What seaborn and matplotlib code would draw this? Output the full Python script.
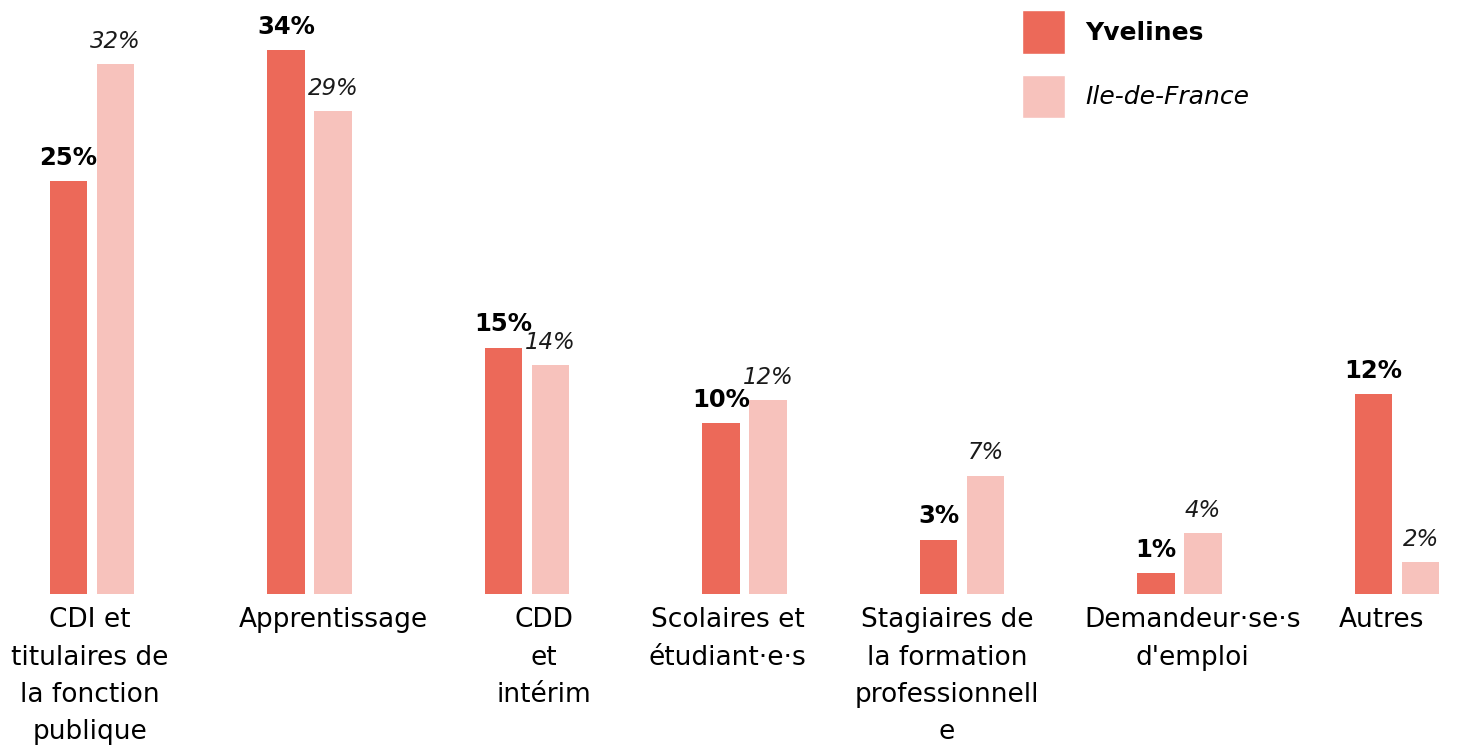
import matplotlib
matplotlib.use("Agg")
import matplotlib.pyplot as plt
import matplotlib.transforms as mtransforms
import seaborn as sns
import pandas as pd
from matplotlib.patches import Patch

# Data
categories = [
    "CDI et\ntitulaires de\nla fonction\npublique",
    "Apprentissage",
    "CDD\net\nintérim",
    "Scolaires et\nétudiant·e·s",
    "Stagiaires de\nla formation\nprofessionnell\ne",
    "Demandeur·se·s\nd'emploi",
    "Autres",
]
yvelines = [25.8, 34.0, 15.4, 10.7, 3.4, 1.3, 12.5]
idf = [33.1, 30.2, 14.3, 12.1, 7.4, 3.8, 2.0]
yvelines_labels = ["25%", "34%", "15%", "10%", "3%", "1%", "12%"]
idf_labels = ["32%", "29%", "14%", "12%", "7%", "4%", "2%"]
series = ["Yvelines", "Ile-de-France"]

dark = "#EC6959"
light = "#F7C2BC"

sns.set_theme(style="white")
plt.rcParams["font.family"] = ["DejaVu Sans"]
plt.rcParams["text.color"] = "black"

df = pd.DataFrame({
    "categorie": categories * 2,
    "zone": [series[0]] * len(categories) + [series[1]] * len(categories),
    "part": yvelines + idf,
})

fig = plt.figure(figsize=(14.66, 7.49), dpi=100)
ax = fig.add_axes([0, 0, 1, 1])

sns.barplot(data=df, x="categorie", y="part", hue="zone",
            palette={series[0]: dark, series[1]: light}, saturation=1,
            width=0.432, gap=0.21, legend=False, ax=ax, linewidth=0)

ax.set_xlim(-0.423, 6.317)
ax.set_ylim(-9.69, 37.125)

# value labels
ax.bar_label(ax.containers[0], labels=yvelines_labels, padding=8,
             fontsize=17.5, fontweight="bold", color="black")
ax.bar_label(ax.containers[1], labels=idf_labels, padding=8,
             fontsize=16.5, fontstyle="italic", color="#1a1a1a")

# axis styling: category labels hang under the baseline
for s in ax.spines.values():
    s.set_visible(False)
ax.spines["bottom"].set_position(("data", 0))
ax.set_xlabel("")
ax.set_ylabel("")
ax.set_yticks([])
ax.tick_params(axis="x", length=0, pad=9.5, labelsize=19, labelcolor="black")

# the labels in the source are not quite centred on their groups
label_shift = [-2, 24, 17, -17, -15, 13, -16]
for t, dx in zip(ax.get_xticklabels(), label_shift):
    t.set_linespacing(1.57)
    t.set_transform(t.get_transform() +
                    mtransforms.ScaledTranslation(dx / 100, 0, fig.dpi_scale_trans))

# legend
handles = [Patch(facecolor=dark), Patch(facecolor=light)]
leg = fig.legend(handles, series, loc="upper left",
                 bbox_to_anchor=(1022 / 1466, 1 - 10 / 749),
                 bbox_transform=fig.transFigure, frameon=False,
                 borderpad=0, borderaxespad=0, fontsize=18,
                 handlelength=1.72, handleheight=2.3, labelspacing=0.85,
                 handletextpad=0.8)
leg.get_texts()[0].set_fontweight("bold")
leg.get_texts()[1].set_fontstyle("italic")

fig.savefig("out.png", dpi=100)
